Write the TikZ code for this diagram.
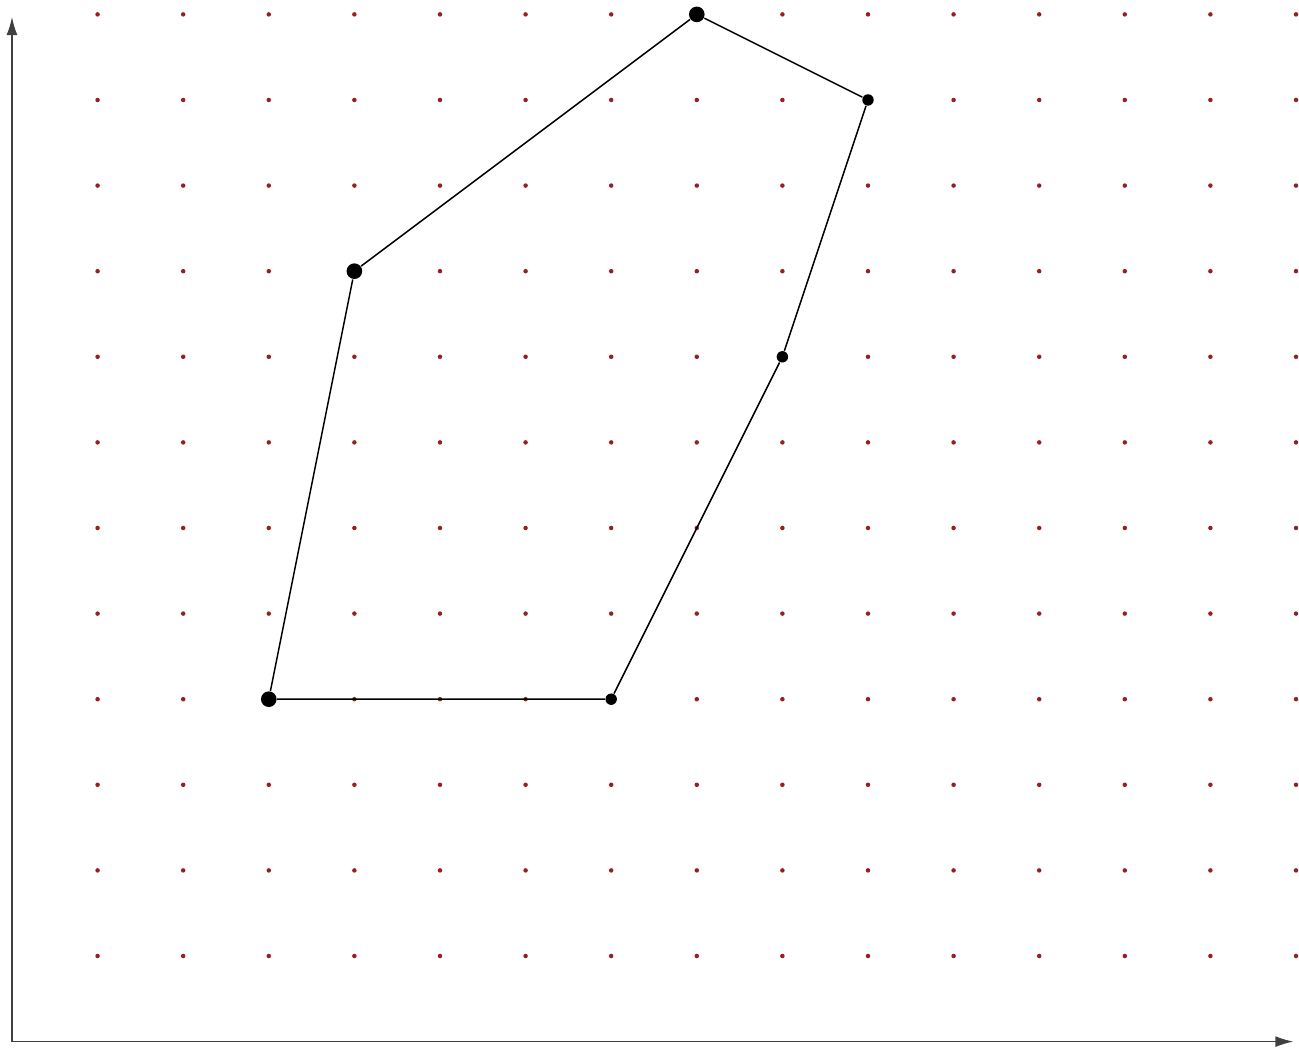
\documentclass[tikz,border=0pt]{standalone}
\usepackage{amsmath,amssymb}
\usepackage{tikz}
\usetikzlibrary{calc}
\usetikzlibrary{shapes}
\usetikzlibrary{arrows.meta}

\definecolor{gridred}{rgb}{0.6,0.12,0.12}

\tikzset{
  bigpt/.style={circle, fill, inner sep=0pt, minimum size=5.2pt},
  smallpt/.style={circle, fill, inner sep=0pt, minimum size=3.8pt},
  axis/.style={-{Latex[length=6pt,width=3.6pt]}, line width=0.45pt, color=black!75}
}

\begin{document}
\begin{tikzpicture}
        \useasboundingbox (-0.14,-0.075) rectangle (15.035,12.168);

        % lattice
        \foreach \x in {1,...,15}
            \foreach \y in {1,...,12}
                \fill [gridred] (\x,\y) circle (0.75pt);

        % axes
        \coordinate (origin) at (0,0);
        \coordinate (xend) at (14.97,0);
        \coordinate (yend) at (0,11.97);
        \draw [axis] (origin) -- (xend);
        \draw [axis] (origin) -- (yend);

        % hull
        \node (p1) at (3,4) [bigpt] {};
        \node (p2) at (7,4) [smallpt] {};
        \node (p3) at (9,8) [smallpt] {};
        \node (p4) at (10,11) [smallpt] {};
        \node (p5) at (8,12) [bigpt] {};
        \node (p6) at (4,9) [bigpt] {};

        \draw [line width=0.5pt] (p1) -- (p2) -- (p3) -- (p4) -- (p5) -- (p6) -- (p1);
    \end{tikzpicture}
\end{document}
